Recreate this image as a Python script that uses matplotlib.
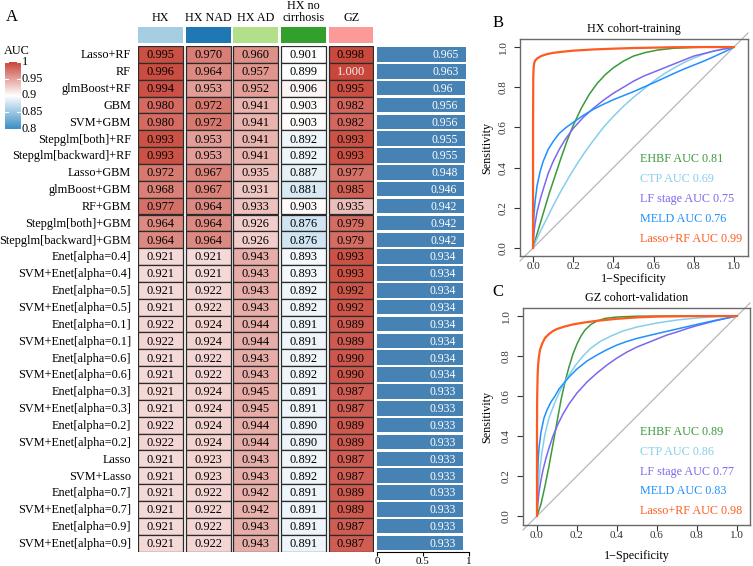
import numpy as np
import matplotlib
matplotlib.use("Agg")
import matplotlib.pyplot as plt
from matplotlib.colors import LinearSegmentedColormap, Normalize
from matplotlib.patches import Rectangle

plt.rcParams["font.family"] = ["Liberation Serif", "DejaVu Serif"]

W, H = 753, 566

# ---- data -------------------------------------------------------------
models = [
    "Lasso+RF", "RF", "glmBoost+RF", "GBM", "SVM+GBM", "Stepglm[both]+RF",
    "Stepglm[backward]+RF", "Lasso+GBM", "glmBoost+GBM", "RF+GBM",
    "Stepglm[both]+GBM", "Stepglm[backward]+GBM", "Enet[alpha=0.4]",
    "SVM+Enet[alpha=0.4]", "Enet[alpha=0.5]", "SVM+Enet[alpha=0.5]",
    "Enet[alpha=0.1]", "SVM+Enet[alpha=0.1]", "Enet[alpha=0.6]",
    "SVM+Enet[alpha=0.6]", "Enet[alpha=0.3]", "SVM+Enet[alpha=0.3]",
    "Enet[alpha=0.2]", "SVM+Enet[alpha=0.2]", "Lasso", "SVM+Lasso",
    "Enet[alpha=0.7]", "SVM+Enet[alpha=0.7]", "Enet[alpha=0.9]",
    "SVM+Enet[alpha=0.9]",
]
cohorts = ["HX", "HX NAD", "HX AD", "HX no\ncirrhosis", "GZ"]
cohort_colors = ["#a6cee3", "#1f78b4", "#b2df8a", "#33a02c", "#fb9a99"]

auc_hx = [0.995, 0.996, 0.994, 0.980, 0.980, 0.993, 0.993, 0.972, 0.968, 0.977,
          0.964, 0.964, 0.921, 0.921, 0.921, 0.921, 0.922, 0.922, 0.921, 0.921,
          0.921, 0.921, 0.922, 0.922, 0.921, 0.921, 0.921, 0.921, 0.921, 0.921]
auc_nad = [0.970, 0.964, 0.953, 0.972, 0.972, 0.953, 0.953, 0.967, 0.967, 0.964,
           0.964, 0.964, 0.921, 0.921, 0.922, 0.922, 0.924, 0.924, 0.922, 0.922,
           0.924, 0.924, 0.924, 0.924, 0.923, 0.923, 0.922, 0.922, 0.922, 0.922]
auc_ad = [0.960, 0.957, 0.952, 0.941, 0.941, 0.941, 0.941, 0.935, 0.931, 0.933,
          0.926, 0.926, 0.943, 0.943, 0.943, 0.943, 0.944, 0.944, 0.943, 0.943,
          0.945, 0.945, 0.944, 0.944, 0.943, 0.943, 0.942, 0.942, 0.943, 0.943]
auc_nocirr = [0.901, 0.899, 0.906, 0.903, 0.903, 0.892, 0.892, 0.887, 0.881, 0.903,
              0.876, 0.876, 0.893, 0.893, 0.892, 0.892, 0.891, 0.891, 0.892, 0.892,
              0.891, 0.891, 0.890, 0.890, 0.892, 0.892, 0.891, 0.891, 0.891, 0.891]
auc_gz = [0.998, 1.000, 0.995, 0.982, 0.982, 0.993, 0.993, 0.977, 0.985, 0.935,
          0.979, 0.979, 0.993, 0.993, 0.992, 0.992, 0.989, 0.989, 0.990, 0.990,
          0.987, 0.987, 0.989, 0.989, 0.987, 0.987, 0.989, 0.989, 0.987, 0.987]
mean_auc = [0.965, 0.963, 0.96, 0.956, 0.956, 0.955, 0.955, 0.948, 0.946, 0.942,
            0.942, 0.942, 0.934, 0.934, 0.934, 0.934, 0.934, 0.934, 0.934, 0.934,
            0.933, 0.933, 0.933, 0.933, 0.933, 0.933, 0.933, 0.933, 0.933, 0.933]

# ROC curves: (1-specificity, sensitivity)
roc_names = ["EHBF", "CTP", "LF stage", "MELD", "Lasso+RF"]
roc_colors = ["#3a9a3a", "#87ceeb", "#7b68ee", "#1e90ff", "#ff5a1f"]
auc_train = [0.81, 0.69, 0.75, 0.76, 0.99]
auc_valid = [0.89, 0.86, 0.77, 0.83, 0.98]

b_ehbf_x = [0, 0.02, 0.05, 0.08, 0.11, 0.14, 0.17, 0.2, 0.24, 0.28, 0.32, 0.36,
            0.4, 0.45, 0.5, 0.56, 0.62, 0.7, 0.8, 0.9, 1]
b_ehbf_y = [0, 0.07, 0.17, 0.27, 0.36, 0.45, 0.535, 0.61, 0.695, 0.765, 0.82,
            0.863, 0.897, 0.93, 0.955, 0.973, 0.985, 0.994, 0.998, 1, 1]
b_ctp_x = [0, 0.03, 0.06, 0.1, 0.14, 0.18, 0.22, 0.26, 0.3, 0.35, 0.4, 0.45,
           0.5, 0.55, 0.6, 0.65, 0.7, 0.75, 0.8, 0.85, 0.9, 0.95, 1]
b_ctp_y = [0, 0.07, 0.13, 0.21, 0.285, 0.355, 0.42, 0.48, 0.535, 0.6, 0.655,
           0.705, 0.75, 0.79, 0.83, 0.865, 0.895, 0.922, 0.945, 0.965, 0.98,
           0.992, 1]
b_lf_x = [0, 0.005, 0.01, 0.02, 0.035, 0.05, 0.075, 0.1, 0.13, 0.16, 0.2, 0.25,
          0.3, 0.35, 0.4, 0.45, 0.5, 0.55, 0.6, 0.65, 0.7, 0.75, 0.8, 0.9, 1]
b_lf_y = [0, 0.08, 0.12, 0.18, 0.24, 0.29, 0.37, 0.43, 0.49, 0.54, 0.595, 0.65,
          0.695, 0.735, 0.77, 0.8, 0.83, 0.855, 0.875, 0.895, 0.915, 0.935,
          0.955, 0.98, 1]
b_meld_x = [0, 0.002, 0.005, 0.01, 0.02, 0.035, 0.05, 0.075, 0.1, 0.13, 0.165,
            0.2, 0.25, 0.3, 0.35, 0.4, 0.45, 0.5, 0.55, 0.6, 0.65, 0.7, 0.75,
            0.8, 0.85, 0.9, 0.95, 1]
b_meld_y = [0, 0.1, 0.17, 0.23, 0.31, 0.38, 0.43, 0.49, 0.53, 0.57, 0.6, 0.625,
            0.66, 0.69, 0.715, 0.738, 0.758, 0.778, 0.8, 0.822, 0.845, 0.868,
            0.89, 0.91, 0.93, 0.952, 0.975, 1]
b_lasso_x = [0, 0, 0.001, 0.003, 0.006, 0.01, 0.02, 0.04, 0.07, 0.1, 0.15, 0.2,
             0.3, 0.4, 0.5, 0.6, 0.7, 0.85, 1]
b_lasso_y = [0, 0.6, 0.85, 0.9, 0.92, 0.932, 0.943, 0.955, 0.965, 0.971, 0.977,
             0.982, 0.988, 0.992, 0.995, 0.997, 0.999, 1, 1]

c_ehbf_x = [0, 0.02, 0.04, 0.06, 0.08, 0.1, 0.12, 0.14, 0.16, 0.18, 0.2, 0.22,
            0.24, 0.27, 0.3, 0.34, 0.4, 0.5, 0.7, 1]
c_ehbf_y = [0, 0.06, 0.15, 0.25, 0.36, 0.47, 0.58, 0.67, 0.745, 0.81, 0.86,
            0.9, 0.93, 0.958, 0.975, 0.988, 0.995, 0.999, 1, 1]
c_ctp_x = [0, 0.003, 0.008, 0.015, 0.025, 0.04, 0.06, 0.09, 0.12, 0.15, 0.19,
           0.23, 0.27, 0.32, 0.37, 0.43, 0.5, 0.6, 0.7, 0.8, 0.9, 1]
c_ctp_y = [0, 0.08, 0.16, 0.24, 0.32, 0.41, 0.49, 0.57, 0.635, 0.69, 0.75, 0.8,
           0.84, 0.875, 0.9, 0.925, 0.945, 0.965, 0.98, 0.99, 0.997, 1]
c_lf_x = [0, 0.003, 0.01, 0.02, 0.03, 0.045, 0.06, 0.08, 0.105, 0.13, 0.16, 0.2,
          0.25, 0.3, 0.35, 0.4, 0.45, 0.5, 0.55, 0.6, 0.65, 0.7, 0.75, 0.8,
          0.9, 1]
c_lf_y = [0, 0.05, 0.12, 0.18, 0.23, 0.29, 0.34, 0.4, 0.46, 0.51, 0.56, 0.615,
          0.67, 0.715, 0.755, 0.79, 0.82, 0.845, 0.865, 0.885, 0.905, 0.92,
          0.937, 0.952, 0.978, 1]
c_meld_x = [0, 0.001, 0.003, 0.006, 0.01, 0.02, 0.035, 0.05, 0.07, 0.09, 0.11,
            0.135, 0.165, 0.2, 0.25, 0.3, 0.35, 0.4, 0.45, 0.5, 0.6, 0.7, 0.8,
            0.9, 1]
c_meld_y = [0, 0.12, 0.2, 0.28, 0.34, 0.42, 0.49, 0.53, 0.57, 0.6, 0.635, 0.665,
            0.7, 0.735, 0.775, 0.805, 0.832, 0.855, 0.873, 0.888, 0.912, 0.935,
            0.958, 0.98, 1]
c_lasso_x = [0, 0, 0.001, 0.003, 0.006, 0.01, 0.015, 0.025, 0.04, 0.06, 0.08,
             0.1, 0.14, 0.18, 0.24, 0.3, 0.4, 0.5, 0.6, 0.75, 1]
c_lasso_y = [0, 0.45, 0.6, 0.7, 0.76, 0.8, 0.83, 0.86, 0.89, 0.91, 0.925, 0.935,
             0.948, 0.958, 0.968, 0.976, 0.986, 0.993, 0.997, 0.999, 1]

roc_train = [(b_ehbf_x, b_ehbf_y), (b_ctp_x, b_ctp_y), (b_lf_x, b_lf_y),
             (b_meld_x, b_meld_y), (b_lasso_x, b_lasso_y)]
roc_valid = [(c_ehbf_x, c_ehbf_y), (c_ctp_x, c_ctp_y), (c_lf_x, c_lf_y),
             (c_meld_x, c_meld_y), (c_lasso_x, c_lasso_y)]


def px_rect(l, t, r, b):
    return [l / W, 1 - b / H, (r - l) / W, (b - t) / H]


def ftext(x, y, s, **kw):
    fig.text(x / W, 1 - y / H, s, **kw)


fig = plt.figure(figsize=(W / 100, H / 100), dpi=100)

cmap = LinearSegmentedColormap.from_list(
    "auc", [(0.0, "#3a8fc5"), (0.5, "#ffffff"), (1.0, "#c9463a")])
norm = Normalize(0.8, 1.0)

# ---- heatmap (panel A) ------------------------------------------------
cw = 0.943  # cell width, the rest is the white gap
mat = np.array([auc_hx, auc_nad, auc_ad, auc_nocirr, auc_gz]).T
ax = fig.add_axes(px_rect(138, 46, 373.8, 551.5))
for i in range(len(models)):
    for j in range(len(cohorts)):
        v = mat[i, j]
        ax.add_patch(Rectangle((j, i), cw, 1, facecolor=cmap(norm(v)),
                               edgecolor="#2b2b2b", lw=0.9))
        ax.text(j + cw / 2, i + 0.55, f"{v:.3f}", ha="center", va="center",
                fontsize=8.9, color="#f2f2f2" if v >= 0.9995 else "black")
ax.set_xlim(-0.01, 4 + cw + 0.01)
ax.set_ylim(len(models), 0)
ax.axis("off")

for i, m in enumerate(models):
    ftext(131, 46 + (i + 0.55) * 16.85, m, ha="right", va="center", fontsize=8.8)

# column annotation
axa = fig.add_axes(px_rect(138, 27, 373.8, 43))
for j, c in enumerate(cohort_colors):
    axa.add_patch(Rectangle((j, 0), cw, 1, facecolor=c, edgecolor="none"))
axa.set_xlim(-0.01, 4 + cw + 0.01)
axa.set_ylim(0, 1)
axa.axis("off")
for j, name in enumerate(cohorts):
    ftext(138 + (j + cw / 2) * 47.7, 24, name, ha="center", va="bottom",
          fontsize=8.7, linespacing=1.05)

ftext(12, 17, "A", ha="center", va="center", fontsize=12)

# AUC legend
axc = fig.add_axes(px_rect(5, 62, 20.5, 129))
grad = np.linspace(0.8, 1.0, 200).reshape(-1, 1)
axc.imshow(grad, cmap=cmap, norm=norm, aspect="auto", origin="lower",
           extent=[0, 1, 0.8, 1.0])
for t in [0.8, 0.85, 0.9, 0.95, 1.0]:
    axc.plot([0, 0.2], [t, t], color="white", lw=0.8)
    axc.plot([0.8, 1], [t, t], color="white", lw=0.8)
axc.set_xlim(0, 1)
axc.set_ylim(0.8, 1.0)
axc.axis("off")
for t, lab in zip([0.8, 0.85, 0.9, 0.95, 1.0], ["0.8", "0.85", "0.9", "0.95", "1"]):
    ftext(22, 129 - (t - 0.8) / 0.2 * 67, lab, ha="left", va="center", fontsize=8.8)
ftext(4, 51, "AUC", ha="left", va="center", fontsize=8.8)

# mean AUC bars
axb = fig.add_axes(px_rect(377, 46, 469, 551.5))
ypos = np.arange(len(models)) + 0.5
axb.barh(ypos, mean_auc, height=0.86, color="#4682b4")
for y, v in zip(ypos, mean_auc):
    axb.text(v - 0.36, y + 0.05, f"{v:g}", ha="left", va="center",
             fontsize=8.4, color="white")
axb.set_xlim(0, 1)
axb.set_ylim(len(models), 0)
for s in ["top", "right", "left"]:
    axb.spines[s].set_visible(False)
axb.spines["bottom"].set_bounds(0, 1)
axb.spines["bottom"].set_linewidth(0.8)
axb.set_yticks([])
axb.set_xticks([0, 0.5, 1])
axb.set_xticklabels(["0", "0.5", "1"])
axb.tick_params(axis="x", length=3, width=0.8, pad=1, labelsize=8)


# ---- ROC panels ---------------------------------------------------------
def roc_panel(rect, xlim, ylim, curves, aucs, letter, title, geo):
    a = fig.add_axes(px_rect(*rect))
    a.plot([xlim[0], xlim[1]], [xlim[0], xlim[1]], color="#b0b0b0", lw=0.8,
           clip_on=False, zorder=1)
    for (xs, ys), col, nm in zip(curves, roc_colors, roc_names):
        a.plot(xs, ys, color=col, lw=1.6 if nm == "Lasso+RF" else 1.1, zorder=3)
    a.set_xlim(*xlim)
    a.set_ylim(*ylim)
    ticks = [0, 0.2, 0.4, 0.6, 0.8, 1.0]
    a.set_xticks(ticks)
    a.set_yticks(ticks)
    a.set_xticklabels([f"{t:.1f}" for t in ticks])
    a.set_yticklabels([f"{t:.1f}" for t in ticks], rotation=90, va="center")
    a.tick_params(length=4, width=0.8, colors="#333333", labelsize=8)
    a.tick_params(axis="x", pad=0.5)
    a.tick_params(axis="y", pad=5)
    for s in a.spines.values():
        s.set_color("#6a6a6a")
        s.set_linewidth(1.0)
    lx, ly0, ldy, top, bot, lab_y, cx = geo
    for k, (nm, col, v) in enumerate(zip(roc_names, roc_colors, aucs)):
        ftext(lx, ly0 + k * ldy, f"{nm} AUC {v:.2f}", ha="left", va="center",
              fontsize=8.7, color=col)
    ftext(498, top - 16, letter, ha="center", va="center", fontsize=12)
    ftext(cx, top - 10, title, ha="center", va="center", fontsize=8.7)
    ftext(487, (top + bot) / 2, "Sensitivity", ha="center", va="center",
          rotation=90, fontsize=8.7)
    ftext(cx, lab_y, "1\u2212Specificity", ha="center", va="center", fontsize=8.7)
    return a


roc_panel((520, 39, 748, 256), (-0.065, 1.07), (-0.04, 1.04), roc_train,
          auc_train, "B", "HX cohort-training",
          (640, 159.5, 19.9, 39, 256, 279, 634))
roc_panel((523, 308, 750, 525), (-0.07, 1.065), (-0.045, 1.04), roc_valid,
          auc_valid, "C", "GZ cohort-validation",
          (640, 432, 19.8, 308, 525, 556, 637))

fig.savefig("out.png", dpi=100)
